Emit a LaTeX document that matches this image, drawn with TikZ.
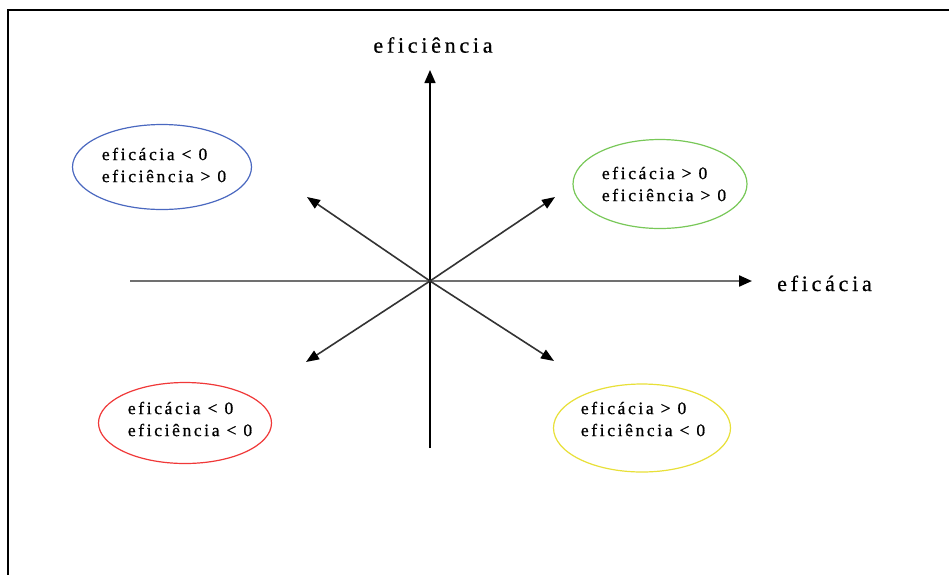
\documentclass[tikz,border=0pt]{standalone}
\usepackage{fontspec}
\setmainfont{Liberation Serif}
\newfontfamily\quadfont[LetterSpace=15,FakeBold=0.8]{Liberation Serif}
\newfontfamily\axisfont[LetterSpace=17,FakeBold=0.6]{Liberation Serif}
\usetikzlibrary{arrows.meta,shapes.geometric}
\definecolor{qblue}{HTML}{4A68C0}
\definecolor{qgreen}{HTML}{78C858}
\definecolor{qred}{HTML}{F03838}
\definecolor{qyellow}{HTML}{E8E038}
\definecolor{axgray}{HTML}{707070}
\definecolor{diaggray}{HTML}{333333}
\tikzset{
  quad/.style={ellipse, inner sep=0pt, line width=1.2pt},
  qtext/.style={align=left, inner sep=0pt, font=\fontsize{17.5pt}{22pt}\quadfont},
  axlabel/.style={inner sep=0pt, font=\fontsize{22pt}{24pt}\axisfont},
  vaxis/.style={-{Triangle[length=13pt,width=11pt]}, line width=1.5pt, black},
  haxis/.style={-{Triangle[length=13pt,width=11pt,color=black]}, line width=2.2pt, draw=axgray},
  diag/.style={-{Triangle[length=13pt,width=10pt,color=black]}, line width=1.6pt, draw=diaggray}
}
\begin{document}
\begin{tikzpicture}[x=1pt,y=-1pt]
\useasboundingbox[fill=white] (0,0) rectangle (949,574);
% frame
\draw[line width=2pt, line cap=rect] (8,574) -- (8,10) -- (949,10);
% centre and axis ends
\coordinate (o) at (430,281);
\coordinate (vb) at (430,448);
\coordinate (vt) at (430,70);
\coordinate (hl) at (130,281);
\coordinate (hr) at (752,281);
\coordinate (ul) at (307,197);
\coordinate (ur) at (555,197);
\coordinate (ll) at (306,362);
\coordinate (lr) at (554,361);
% axes
\draw[haxis] (hl) -- (hr);
\draw[vaxis] (vb) -- (vt);
\draw[diag] (o) -- (ul);
\draw[diag] (o) -- (ur);
\draw[diag] (o) -- (ll);
\draw[diag] (o) -- (lr);
% axis labels
\node[axlabel] (ly) at (433,45) {eficiência};
\node[axlabel, anchor=base west] (lx) at (777,291) {eficácia};
% quadrant ellipses
\node[quad, draw=qblue, minimum width=179pt, minimum height=85pt] (q1) at (162,167) {};
\node[qtext] (t1) at (164,165) {eficácia < 0\\eficiência > 0};
\node[quad, draw=qgreen, minimum width=174pt, minimum height=89pt] (q2) at (660,184) {};
\node[qtext] (t2) at (664,184) {eficácia > 0\\eficiência > 0};
\node[quad, draw=qred, minimum width=173pt, minimum height=81pt] (q3) at (185,423) {};
\node[qtext] (t3) at (190,419) {eficácia < 0\\eficiência < 0};
\node[quad, draw=qyellow, minimum width=177pt, minimum height=88pt] (q4) at (642,428) {};
\node[qtext] (t4) at (643,419) {eficácia > 0\\eficiência < 0};
\end{tikzpicture}
\end{document}
